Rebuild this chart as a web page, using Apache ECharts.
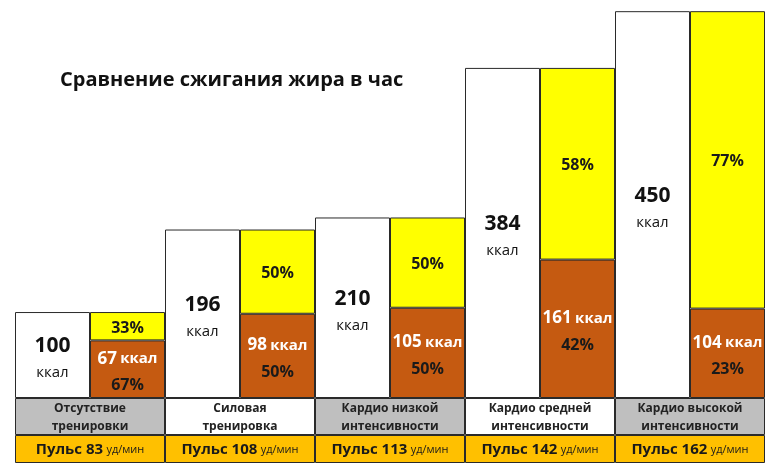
<!DOCTYPE html>
<html>
<head>
<meta charset="utf-8">
<script src="https://cdn.jsdelivr.net/npm/echarts@6/dist/echarts.min.js"></script>
<style>
html,body{margin:0;padding:0;background:#fff;}
#c{width:770px;height:465px;}
</style>
</head>
<body>
<div id="c"></div>
<script>
var categories = ['Отсутствие\nтренировки', 'Силовая\nтренировка', 'Кардио низкой\nинтенсивности', 'Кардио средней\nинтенсивности', 'Кардио высокой\nинтенсивности'];
var totalKcal = [100, 196, 210, 384, 450];
var fatKcal = [67, 98, 105, 161, 104];
var fatPct = [67, 50, 50, 42, 23];
var otherPct = [33, 50, 50, 58, 77];
var pulse = [83, 108, 113, 142, 162];
var rowColors = ['#bfbfbf', '#ffffff', '#bfbfbf', '#ffffff', '#bfbfbf'];

var restKcal = totalKcal.map(function (t, i) { return t - fatKcal[i]; });
var FONT = '"Open Sans", "Noto Sans", sans-serif';
var BORDER = '#2a2a2a';

var chart = echarts.init(document.getElementById('c'), null, {renderer: 'canvas'});
var gridL = 15, plotW = 750;
var band = plotW / categories.length;
var half = band / 2;

chart.setOption({
  backgroundColor: '#ffffff',
  animation: false,
  title: {
    text: 'Сравнение сжигания жира в час',
    left: 55, top: 65,
    textStyle: {fontFamily: FONT, fontWeight: 'bold', fontSize: 20, color: '#111'}
  },
  grid: [
    {left: gridL, width: plotW, top: 0, height: 398},
    {left: gridL, width: plotW, top: 398, height: 37},
    {left: gridL, width: plotW, top: 435, height: 28}
  ],
  xAxis: [0, 1, 2].map(function (g) {
    return {type: 'category', gridIndex: g, data: categories, show: false};
  }),
  yAxis: [
    {type: 'value', gridIndex: 0, min: 0, max: 463, show: false},
    {type: 'value', gridIndex: 1, min: 0, max: 1, show: false},
    {type: 'value', gridIndex: 2, min: 0, max: 1, show: false}
  ],
  series: [
    {
      type: 'bar', xAxisIndex: 0, yAxisIndex: 0, name: 'total',
      data: totalKcal, barGap: '0%', barWidth: half,
      itemStyle: {color: '#ffffff', borderColor: BORDER, borderWidth: 1},
      label: {
        show: true, position: 'inside', offset: [0, 4],
        formatter: function (p) { return '{n|' + p.value + '}\n{u|ккал}'; },
        rich: {
          n: {fontFamily: FONT, fontWeight: 'bold', fontSize: 21, color: '#111', lineHeight: 28},
          u: {fontFamily: FONT, fontSize: 15, color: '#111', lineHeight: 26}
        }
      }
    },
    {
      type: 'bar', xAxisIndex: 0, yAxisIndex: 0, name: 'fat', stack: 's',
      data: fatKcal, barGap: '0%', barWidth: half,
      itemStyle: {color: '#c55a11', borderColor: BORDER, borderWidth: 1},
      label: {
        show: true, position: 'inside', offset: [0, 3],
        formatter: function (p) {
          return '{n|' + p.value + '} {u|ккал}\n{p|' + fatPct[p.dataIndex] + '%}';
        },
        rich: {
          n: {fontFamily: FONT, fontWeight: 'bold', fontSize: 17, color: '#ffffff', lineHeight: 27},
          u: {fontFamily: FONT, fontWeight: 'bold', fontSize: 15, color: '#ffffff', lineHeight: 27},
          p: {fontFamily: FONT, fontWeight: 'bold', fontSize: 16, color: '#1a1a1a', lineHeight: 27}
        }
      }
    },
    {
      type: 'bar', xAxisIndex: 0, yAxisIndex: 0, name: 'rest', stack: 's',
      data: restKcal, barGap: '0%', barWidth: half,
      itemStyle: {color: '#ffff00', borderColor: BORDER, borderWidth: 1},
      label: {
        show: true, position: 'inside', offset: [0, 2],
        formatter: function (p) { return otherPct[p.dataIndex] + '%'; },
        fontFamily: FONT, fontWeight: 'bold', fontSize: 16, color: '#1a1a1a'
      }
    },
    {
      type: 'bar', xAxisIndex: 1, yAxisIndex: 1, name: 'cat',
      data: categories.map(function (c, i) {
        return {value: 1, itemStyle: {color: rowColors[i]}};
      }),
      barWidth: band,
      itemStyle: {borderColor: BORDER, borderWidth: 1},
      label: {
        show: true, position: 'inside', offset: [0, 1],
        formatter: function (p) { return categories[p.dataIndex]; },
        fontFamily: FONT, fontWeight: 'bold', fontSize: 12, lineHeight: 18, color: '#222'
      }
    },
    {
      type: 'bar', xAxisIndex: 2, yAxisIndex: 2, name: 'pulse',
      data: pulse.map(function () { return 1; }),
      barWidth: band,
      itemStyle: {color: '#ffc000', borderColor: BORDER, borderWidth: 1},
      label: {
        show: true, position: 'inside', offset: [0, 1],
        formatter: function (p) { return '{b|Пульс ' + pulse[p.dataIndex] + '} {s|уд/мин}'; },
        rich: {
          b: {fontFamily: FONT, fontWeight: 'bold', fontSize: 15, color: '#1a1a1a'},
          s: {fontFamily: FONT, fontSize: 11, color: '#1a1a1a'}
        }
      }
    }
  ]
});
</script>
</body>
</html>
